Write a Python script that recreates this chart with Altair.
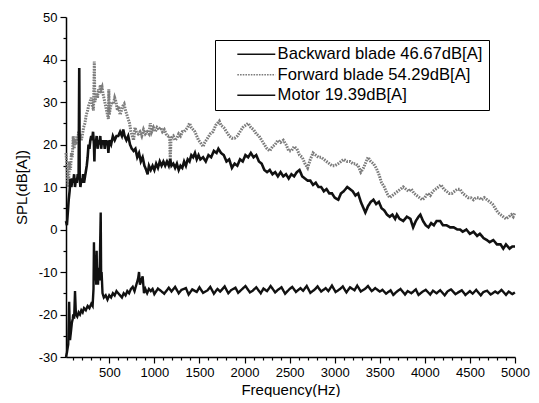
import altair as alt
import pandas as pd

# ---------------- data ----------------
bw_label = "Backward blade 46.67dB[A]"
fw_label = "Forward blade 54.29dB[A]"
mo_label = "Motor 19.39dB[A]"

bw_f = [20, 30, 40, 50, 60, 70, 80, 90, 100, 110, 120, 130, 140, 150, 160, 167, 172, 180, 190, 200,
        210, 220, 235, 250, 260, 270, 280, 290, 300, 310, 320, 330, 335, 340, 350, 360, 370, 380, 390, 400,
        410, 420, 430, 440, 450, 460, 470, 480, 490, 500, 520, 540, 560, 580, 600, 620, 640, 655, 670, 690,
        710, 730, 750, 770, 790, 810, 830, 850, 870, 890, 910, 925, 940, 960, 980, 1000, 1020, 1040, 1060, 1080,
        1100, 1120, 1140, 1160, 1176, 1190, 1210, 1230, 1250, 1270, 1290, 1310, 1330, 1350, 1370, 1390, 1410, 1430, 1450, 1470,
        1490, 1510, 1540, 1570, 1600, 1630, 1660, 1690, 1710, 1740, 1770, 1800, 1830, 1860, 1890, 1920, 1950, 1980, 2010, 2040,
        2070, 2100, 2130, 2160, 2190, 2220, 2250, 2280, 2310, 2340, 2370, 2400, 2430, 2460, 2490, 2520, 2550, 2580, 2610, 2640,
        2670, 2700, 2730, 2760, 2790, 2820, 2850, 2880, 2910, 2940, 2970, 3000, 3040, 3070, 3100, 3140, 3170, 3200, 3230, 3260,
        3290, 3320, 3340, 3370, 3400, 3430, 3460, 3490, 3520, 3550, 3580, 3610, 3640, 3670, 3690, 3720, 3760, 3800, 3840, 3870,
        3900, 3930, 3950, 3980, 4010, 4040, 4070, 4100, 4130, 4170, 4200, 4240, 4280, 4320, 4360, 4390, 4420, 4460, 4500, 4540,
        4580, 4610, 4650, 4690, 4720, 4760, 4800, 4840, 4870, 4900, 4940, 4970, 5000]
bw_v = [2, 1, 4, 7, 9, 12, 10, 12, 11, 13, 10, 12, 11, 13, 12, 38, 12, 10, 12, 11,
        13, 11, 13, 15, 17, 20, 19, 21, 22, 21, 23, 20, 16, 21, 20, 22, 19, 21, 20, 22,
        19, 21, 20, 21, 19, 21, 20, 21, 18, 21, 20, 22, 21, 22, 22, 23, 22, 23.5, 22, 21,
        22, 20, 19, 18.5, 19, 17, 18, 16, 17, 15, 14, 13, 15, 14, 15, 14, 15.5, 14.5, 16, 15,
        16, 15, 16, 15, 16.5, 15, 15.5, 14.5, 15.5, 14, 15, 14.5, 16, 15, 16.5, 16, 17.5, 17, 18, 16.5,
        17.5, 16.5, 17, 16, 17.5, 17, 18.5, 18, 19, 18, 17.5, 16, 16.5, 14.5, 15.5, 15, 16.5, 16, 17.5, 17,
        18, 17, 17.5, 16, 15.5, 14, 13.5, 14, 13, 13.5, 12.5, 13.5, 12.5, 13, 12, 13, 12.5, 13.5, 14, 12.5,
        12, 11.5, 11.5, 10.5, 11, 10, 10, 9, 9.5, 8.5, 8.5, 7.5, 7, 8.5, 9, 10, 9.5, 9, 8, 8.5,
        6.5, 5, 4, 5.5, 6.5, 7, 6, 6.5, 5, 4.5, 3.5, 3, 3.5, 2.5, 3.5, 2.5, 2, 3, 2.5, 0.5,
        2, 3, 3.5, 2, 1, 0.5, 1.5, 1, 2, 2, 1, 1, 0.5, 0.5, 0, 0, -0.5, 0, -1, -0.5,
        -1.5, -1, -2, -2.5, -3, -2.5, -3.5, -3.5, -4.5, -3.5, -4.5, -4, -4]

fw_f = [20, 30, 40, 45, 50, 60, 70, 80, 90, 100, 110, 120, 130, 140, 150, 160, 167, 180, 190, 200,
        215, 230, 245, 260, 270, 285, 300, 315, 325, 334, 340, 350, 360, 370, 380, 390, 400, 410, 420, 430,
        440, 450, 460, 470, 480, 490, 495, 500, 515, 530, 545, 560, 575, 590, 605, 620, 635, 650, 665, 680,
        695, 710, 725, 740, 755, 770, 785, 800, 820, 840, 860, 880, 900, 920, 940, 955, 970, 990, 1010, 1030,
        1050, 1070, 1090, 1110, 1130, 1150, 1170, 1176, 1185, 1210, 1230, 1250, 1270, 1290, 1310, 1330, 1350, 1370, 1390, 1410,
        1430, 1450, 1470, 1490, 1510, 1540, 1560, 1590, 1620, 1650, 1680, 1700, 1720, 1740, 1770, 1800, 1830, 1860, 1890, 1920,
        1950, 1980, 2010, 2040, 2070, 2100, 2130, 2160, 2190, 2220, 2250, 2280, 2310, 2340, 2370, 2400, 2430, 2460, 2490, 2520,
        2550, 2580, 2610, 2640, 2670, 2700, 2730, 2760, 2790, 2820, 2850, 2880, 2910, 2940, 2970, 3000, 3040, 3070, 3100, 3140,
        3170, 3200, 3230, 3260, 3290, 3320, 3350, 3370, 3400, 3430, 3460, 3490, 3520, 3550, 3580, 3610, 3640, 3670, 3700, 3730,
        3760, 3790, 3820, 3850, 3880, 3910, 3940, 3970, 4000, 4030, 4060, 4090, 4120, 4150, 4180, 4210, 4240, 4270, 4300, 4330,
        4360, 4390, 4420, 4450, 4480, 4510, 4540, 4570, 4600, 4630, 4660, 4690, 4720, 4750, 4780, 4810, 4840, 4870, 4900, 4930,
        4960, 4980, 5000]
fw_v = [18, 15, 11, 10, 12, 16, 14, 18, 17, 22, 19, 21, 20, 22, 21, 23, 22, 22, 21, 22,
        24, 25, 27, 28, 29, 30, 31, 29, 28, 39.5, 30, 31, 32, 31, 33, 32, 34, 33, 33.5, 32,
        31, 30, 29, 28, 27, 26, 33, 27, 29, 30, 29.5, 31, 30, 28, 29, 27, 28, 29, 29.5, 28,
        27, 26, 25, 23, 22, 21, 24, 23, 22.5, 23, 22, 23.5, 22.5, 23, 22.5, 25, 23, 24, 23, 24,
        23.5, 24, 23, 23.5, 22.5, 22, 22, 16, 21.5, 22, 21, 21.5, 22.5, 22, 23, 23, 23.5, 24, 25, 24,
        23.5, 23, 22, 21, 20.5, 19.5, 20.5, 21.5, 22.5, 23, 24.5, 25, 25.5, 24.5, 24, 23, 22, 21.5, 21.5, 22,
        23, 24, 24.5, 25, 24, 23.5, 22.5, 22, 21, 20, 19, 18.5, 19.5, 20, 21, 20.5, 21, 20, 18.5, 18.5,
        19.5, 19, 17.5, 17, 15.5, 14.5, 16.5, 18, 17.5, 17, 17, 16.5, 16, 15.5, 15, 15, 15.5, 16, 16.5, 16,
        16, 15.5, 15.5, 15, 13.5, 14.5, 16, 17, 16, 15.5, 14.5, 13, 11, 10, 8.5, 7.5, 8, 8.5, 9, 9.5,
        10, 9.5, 9, 9.5, 8.5, 8, 7.5, 7, 7.5, 8.5, 8, 9, 9.5, 10, 10.5, 9.5, 9, 8.5, 8.5, 9,
        9.5, 9.5, 8.5, 8, 7.5, 7.5, 7, 7.5, 7.5, 7, 7.5, 7, 6.5, 6, 5, 4, 3.5, 3, 2.5, 3,
        3.5, 3, 4]

mo_f = [20, 30, 45, 55, 65, 75, 85, 95, 100, 110, 120, 130, 145, 160, 175, 190, 205, 220, 240, 260,
        280, 300, 315, 325, 330, 335, 340, 345, 350, 355, 360, 365, 370, 375, 380, 390, 395, 405, 410, 415,
        425, 440, 460, 480, 500, 520, 540, 560, 580, 600, 620, 640, 660, 680, 700, 720, 740, 760, 780, 800,
        820, 830, 840, 855, 870, 885, 900, 920, 940, 960, 980,
        1000, 1040, 1070, 1110, 1160, 1190, 1230, 1270, 1300, 1350, 1380, 1420, 1470, 1500, 1540, 1590, 1620, 1660, 1700, 1730,
        1780, 1820, 1850, 1900, 1930, 1970, 2010, 2060, 2090, 2130, 2180, 2210, 2250, 2290, 2340, 2370, 2410, 2450, 2500, 2530,
        2570, 2620, 2650, 2690, 2730, 2780, 2810, 2850, 2900, 2930, 2970, 3010, 3060, 3090, 3130, 3170, 3220, 3250, 3290, 3340,
        3370, 3410, 3450, 3500, 3530, 3570, 3620, 3650, 3690, 3730, 3780, 3810, 3850, 3900, 3930, 3970, 4010, 4060, 4090, 4130,
        4170, 4220, 4250, 4290, 4340, 4370, 4410, 4450, 4500, 4530, 4570, 4620, 4650, 4690, 4730, 4780, 4810, 4850, 4900, 4930,
        4970, 5000]
mo_v = [-30, -29, -27, -17, -26, -24, -22, -21, -20, -21, -14.5, -20, -20.5, -19.5, -20, -19, -19.5, -18.5, -19, -18,
        -18.5, -17.5, -18, -14, -3, -10, -6, -12, -8, -13, -5, -12, -9, -13, -10, -12, -8, 4, -12, -10,
        -15, -16, -15.5, -16.5, -15.5, -16, -15, -15.5, -14.5, -15, -15.5, -16, -15, -15.5, -14.5, -15, -14, -13.5, -14.5, -13,
        -11.5, -10, -13, -12, -11, -15, -14, -15, -14, -14.5, -14,
        -15.2, -13.9, -14.4, -15.1, -13.7, -14.6, -13.5, -15.0, -14.2, -13.8, -15.3, -14.1, -14.7, -13.6, -14.9, -14.3, -13.5, -15.1, -14.0, -14.6,
        -13.4, -15.0, -14.3, -13.7, -14.9, -14.1, -13.3, -14.8, -14.4, -13.6, -15.0, -13.9, -14.5, -13.3, -14.8, -14.2, -13.6, -15.1, -14.0, -13.5,
        -14.7, -13.8, -14.4, -13.3, -14.9, -14.1, -13.4, -14.6, -13.8, -14.5, -13.2, -14.7, -14.0, -13.4, -14.8, -13.6, -14.3, -13.2, -14.6, -13.9,
        -13.3, -14.5, -13.8, -14.6, -14.2, -15.1, -14.3, -15.4, -14.6, -14.0, -15.3, -14.5, -15.0, -14.1, -15.4, -14.7, -14.2, -15.3, -14.4, -15.0,
        -14.3, -15.5, -14.6, -14.1, -15.2, -14.8, -14.3, -15.4, -14.5, -15.1, -14.2, -15.5, -14.7, -14.4, -15.3, -14.6, -15.0, -14.2, -15.4, -14.6,
        -15.2, -14.8]

series_order = [bw_label, fw_label, mo_label]
series_colors = ["#111111", "#7c7c7c", "#111111"]
series_dash = [[1, 0], [1.6, 1.1], [1, 0]]

x_ticks = list(range(100, 5001, 100))
y_ticks = list(range(-30, 51, 5))

df_bw = pd.DataFrame({"f": bw_f, "v": bw_v, "s": bw_label})
df_fw = pd.DataFrame({"f": fw_f, "v": fw_v, "s": fw_label})
df_mo = pd.DataFrame({"f": mo_f, "v": mo_v, "s": mo_label})

FONT = "Liberation Sans"

x_enc = alt.X(
    "f:Q",
    scale=alt.Scale(domain=[20, 5000], nice=False, zero=False),
    axis=alt.Axis(
        title="Frequency(Hz)",
        values=x_ticks,
        labelExpr="datum.value % 500 === 0 ? toString(datum.value) : ''",
        tickSize=alt.condition("datum.value % 500 === 0", alt.value(6), alt.value(3)),
        grid=False,
        labelFlush=False,
        labelOverlap=False,
        labelPadding=3,
        titlePadding=3,
    ),
)
y_enc = alt.Y(
    "v:Q",
    scale=alt.Scale(domain=[-30, 50], nice=False, zero=False),
    axis=alt.Axis(
        title="SPL(dB[A])",
        values=y_ticks,
        labelExpr="datum.value % 10 === 0 ? toString(datum.value) : ''",
        tickSize=alt.condition("datum.value % 10 === 0", alt.value(6), alt.value(3)),
        grid=False,
        labelFlush=False,
        labelOverlap=False,
        labelPadding=3,
        titlePadding=9,
    ),
)
color_enc = alt.Color(
    "s:N",
    scale=alt.Scale(domain=series_order, range=series_colors),
    legend=alt.Legend(
        title=None,
        orient="none",
        legendX=149,
        legendY=23,
        symbolType="M-4,0H4",
        symbolSize=90,
        symbolStrokeWidth=1.5,
        labelFontSize=16.6,
        labelFont=FONT,
        labelColor="#000000",
        labelLimit=400,
        labelOffset=13,
        rowPadding=3.5,
        padding=6,
        symbolOffset=27,
        strokeColor="#000000",
    ),
)
dash_enc = alt.StrokeDash(
    "s:N",
    scale=alt.Scale(domain=series_order, range=series_dash),
    legend=None,
)


def layer(df, width):
    return alt.Chart(df).mark_line(strokeWidth=width).encode(
        x=x_enc, y=y_enc, color=color_enc, strokeDash=dash_enc
    )


chart = alt.layer(
    layer(df_fw, 3),
    layer(df_bw, 2.6),
    layer(df_mo, 2.4),
).properties(
    width=449,
    height=340,
    padding={"left": 58, "top": 9, "right": 16, "bottom": 40},
    autosize=alt.AutoSizeParams(type="none"),
).configure_axis(
    labelFont=FONT,
    labelFontSize=13,
    labelColor="#000000",
    titleFont=FONT,
    titleFontSize=15,
    titleFontWeight="normal",
    titleColor="#000000",
    domainColor="#000000",
    domainWidth=1.5,
    tickColor="#000000",
    tickWidth=1.2,
).configure_view(stroke=None)

chart.save("out.html", embed_options={"renderer": "svg", "actions": False})
